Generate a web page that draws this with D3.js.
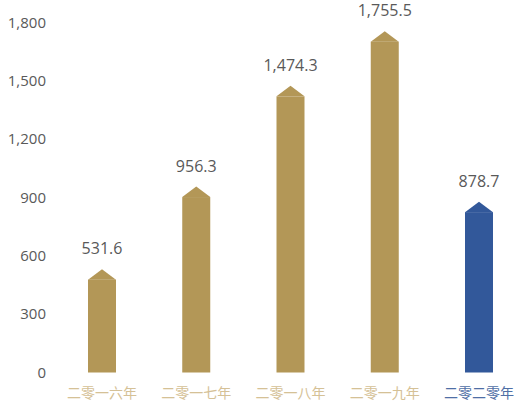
<!DOCTYPE html>
<meta charset="utf-8">
<style>
    body { margin: 0; background: #fff; }
    .axis text { font: 15px "Open Sans", sans-serif; fill: #595959; }
    .value { font: 16px "Open Sans", sans-serif; fill: #595959; }
    .cat { font: 14px "Noto Sans CJK SC", sans-serif; }
</style>
<body>
<div id="chart"></div>
<script src="https://cdn.jsdelivr.net/npm/d3@7"></script>
<script>
    var years = ["二零一六年", "二零一七年", "二零一八年", "二零一九年", "二零二零年"]
    var values = [531.6, 956.3, 1474.3, 1755.5, 878.7]
    var yTicks = [0, 300, 600, 900, 1200, 1500, 1800]

    var width = 518,
        height = 407

    var svg = d3.select('#chart').append("svg")
        .attr("width", width)
        .attr("height", height);

    var x = d3.scalePoint().domain(years).range([102, 479])
    var y = d3.scaleLinear().domain([0, 1800]).range([372.5, 22.5])

    var barW = 28, capH = 10.5

    var barColor = function (i) {
        return i == years.length - 1 ? "#32589a" : "#b39757"
    }
    var labelColor = function (i) {
        return i == years.length - 1 ? "#4f6fa6" : "#d5c196"
    }

    // y axis, text only
    var yAxis = svg.append("g")
        .attr("class", "axis")
        .attr("transform", "translate(55,0)")
        .call(d3.axisLeft(y).tickValues(yTicks).tickSize(0).tickPadding(9).tickFormat(d3.format(",")))
    yAxis.select(".domain").remove()
    yAxis.selectAll("text").attr("font-family", null).attr("font-size", null).attr("fill", null)

    var bar = svg.selectAll(".bar")
        .data(values)
        .enter().append("g")
        .attr("class", "bar")

    bar.append("rect")
        .attr("x", function (d, i) { return x(years[i]) - barW / 2 })
        .attr("y", function (d) { return y(d) + capH })
        .attr("width", barW)
        .attr("height", function (d) { return y(0) - y(d) - capH })
        .attr("fill", function (d, i) { return barColor(i) })

    bar.append("path")
        .attr("d", function (d, i) {
            var cx = x(years[i]), top = y(d)
            return "M" + (cx - barW / 2) + "," + (top + capH) +
                "L" + cx + "," + top +
                "L" + (cx + barW / 2) + "," + (top + capH) + "Z"
        })
        .attr("fill", function (d, i) { return barColor(i) })

    bar.append("text")
        .attr("class", "value")
        .attr("x", function (d, i) { return x(years[i]) })
        .attr("y", function (d) { return y(d) - 15 })
        .attr("text-anchor", "middle")
        .text(function (d) { return d3.format(",.1f")(d) })

    svg.selectAll(".cat")
        .data(years)
        .enter().append("text")
        .attr("class", "cat")
        .attr("x", function (d) { return x(d) })
        .attr("y", 398)
        .attr("text-anchor", "middle")
        .attr("fill", function (d, i) { return labelColor(i) })
        .text(function (d) { return d })
</script>
</body>
